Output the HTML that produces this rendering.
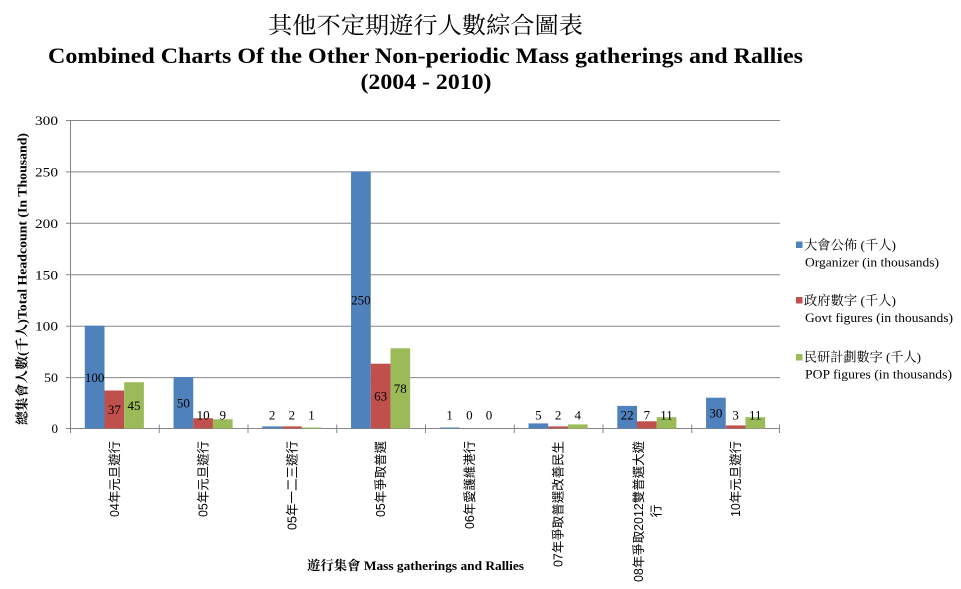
<!DOCTYPE html>
<html><head><meta charset="utf-8">
<style>
html,body{margin:0;padding:0;background:#fff;}
svg{display:block;}
.serif{font-family:"Liberation Serif","Noto Serif CJK SC",serif;}
.sans{font-family:"Liberation Sans","Noto Sans CJK TC",sans-serif;}
</style></head>
<body>
<svg width="961" height="589" viewBox="0 0 961 589" xmlns="http://www.w3.org/2000/svg">
<rect x="0" y="0" width="961" height="589" fill="#fff"/>
<!-- Titles -->
<text class="serif" x="425.5" y="33" font-size="23" text-anchor="middle" textLength="315" lengthAdjust="spacingAndGlyphs" fill="#000">其他不定期遊行人數綜合圖表</text>
<text class="serif" x="425.5" y="63" font-size="22" font-weight="bold" text-anchor="middle" textLength="755" lengthAdjust="spacingAndGlyphs" fill="#000">Combined Charts Of the Other Non-periodic Mass gatherings and Rallies</text>
<text class="serif" x="426" y="89" font-size="22" font-weight="bold" text-anchor="middle" textLength="131" lengthAdjust="spacingAndGlyphs" fill="#000">(2004 - 2010)</text>

<!-- gridlines -->
<g stroke="#868686" stroke-width="1">
<line x1="66" y1="120.5" x2="780" y2="120.5"/>
<line x1="66" y1="171.9" x2="780" y2="171.9"/>
<line x1="66" y1="223.3" x2="780" y2="223.3"/>
<line x1="66" y1="274.8" x2="780" y2="274.8"/>
<line x1="66" y1="326.2" x2="780" y2="326.2"/>
<line x1="66" y1="377.6" x2="780" y2="377.6"/>
<line x1="66" y1="428.5" x2="780" y2="428.5"/>
<line x1="70.5" y1="120" x2="70.5" y2="429"/>
<!-- x ticks -->
<line x1="70.5" y1="424.5" x2="70.5" y2="433"/>
<line x1="159.25" y1="424.5" x2="159.25" y2="433"/>
<line x1="248" y1="424.5" x2="248" y2="433"/>
<line x1="336.75" y1="424.5" x2="336.75" y2="433"/>
<line x1="425.5" y1="424.5" x2="425.5" y2="433"/>
<line x1="514.25" y1="424.5" x2="514.25" y2="433"/>
<line x1="603" y1="424.5" x2="603" y2="433"/>
<line x1="691.75" y1="424.5" x2="691.75" y2="433"/>
<line x1="779.5" y1="424.5" x2="779.5" y2="433"/>
</g>

<!-- y tick labels -->
<g class="serif" font-size="13" text-anchor="end" fill="#000" dominant-baseline="central">
<text x="58" y="120.5" textLength="23" lengthAdjust="spacingAndGlyphs">300</text>
<text x="58" y="171.9" textLength="23" lengthAdjust="spacingAndGlyphs">250</text>
<text x="58" y="223.3" textLength="23" lengthAdjust="spacingAndGlyphs">200</text>
<text x="58" y="274.8" textLength="23" lengthAdjust="spacingAndGlyphs">150</text>
<text x="58" y="326.2" textLength="23" lengthAdjust="spacingAndGlyphs">100</text>
<text x="58" y="377.6" textLength="14" lengthAdjust="spacingAndGlyphs">50</text>
<text x="58" y="428.5">0</text>
</g>

<!-- y axis title -->
<text class="serif" transform="translate(22,279) rotate(-90)" font-size="13" font-weight="bold" text-anchor="middle" dominant-baseline="central" textLength="292" lengthAdjust="spacingAndGlyphs" fill="#000">總集會人數(千人)Total Headcount (In Thousand)</text>

<!-- bars -->
<g fill="#4F81BD">
<rect x="84.8" y="325.7" width="19.7" height="102.8"/>
<rect x="173.55" y="377.1" width="19.7" height="51.4"/>
<rect x="262.3" y="426.4" width="19.7" height="2.1"/>
<rect x="351.05" y="171.4" width="19.7" height="257.1"/>
<rect x="439.8" y="427.5" width="19.7" height="1"/>
<rect x="528.55" y="423.4" width="19.7" height="5.1"/>
<rect x="617.3" y="405.9" width="19.7" height="22.6"/>
<rect x="706.05" y="397.7" width="19.7" height="30.8"/>
</g>
<g fill="#C0504D">
<rect x="104.5" y="390.5" width="19.7" height="38"/>
<rect x="193.25" y="418.2" width="19.7" height="10.3"/>
<rect x="282" y="426.4" width="19.7" height="2.1"/>
<rect x="370.75" y="363.7" width="19.7" height="64.8"/>
<rect x="548.25" y="426.4" width="19.7" height="2.1"/>
<rect x="637" y="421.3" width="19.7" height="7.2"/>
<rect x="725.75" y="425.4" width="19.7" height="3.1"/>
</g>
<g fill="#9BBB59">
<rect x="124.2" y="382.2" width="19.7" height="46.3"/>
<rect x="212.95" y="419.25" width="19.7" height="9.25"/>
<rect x="301.7" y="427.5" width="19.7" height="1"/>
<rect x="390.45" y="348.3" width="19.7" height="80.2"/>
<rect x="567.95" y="424.4" width="19.7" height="4.1"/>
<rect x="656.7" y="417.2" width="19.7" height="11.3"/>
<rect x="745.45" y="417.2" width="19.7" height="11.3"/>
</g>

<!-- data labels -->
<g class="serif" font-size="13" text-anchor="middle" dominant-baseline="central" fill="#000">
<text x="94.65" y="377.5">100</text>
<text x="114.35" y="409.5">37</text>
<text x="134.05" y="405.5">45</text>
<text x="183.4" y="403">50</text>
<text x="203.1" y="415">10</text>
<text x="222.8" y="415">9</text>
<text x="272.15" y="415">2</text>
<text x="291.85" y="415">2</text>
<text x="311.55" y="415">1</text>
<text x="360.9" y="300">250</text>
<text x="380.6" y="396">63</text>
<text x="400.3" y="388.4">78</text>
<text x="449.65" y="415">1</text>
<text x="469.35" y="415">0</text>
<text x="489.05" y="415">0</text>
<text x="538.4" y="415">5</text>
<text x="558.1" y="415">2</text>
<text x="577.8" y="415">4</text>
<text x="627.15" y="415">22</text>
<text x="646.85" y="415">7</text>
<text x="666.55" y="415">11</text>
<text x="715.9" y="413">30</text>
<text x="735.6" y="415">3</text>
<text x="755.3" y="415">11</text>
</g>

<!-- x category labels -->
<g class="sans" font-size="12.7" fill="#000" dominant-baseline="central" text-anchor="end">
<text transform="translate(114.9,441) rotate(-90)" textLength="76" lengthAdjust="spacingAndGlyphs">04年元旦遊行</text>
<text transform="translate(203.6,441) rotate(-90)" textLength="76" lengthAdjust="spacingAndGlyphs">05年元旦遊行</text>
<text transform="translate(292.4,441) rotate(-90)" textLength="89" lengthAdjust="spacingAndGlyphs">05年一二三遊行</text>
<text transform="translate(381.1,441) rotate(-90)" textLength="76" lengthAdjust="spacingAndGlyphs">05年爭取普選</text>
<text transform="translate(469.9,441) rotate(-90)" textLength="88" lengthAdjust="spacingAndGlyphs">06年愛護維港行</text>
<text transform="translate(558.6,441) rotate(-90)" textLength="126" lengthAdjust="spacingAndGlyphs">07年爭取普選改善民生</text>
<text transform="translate(639,441) rotate(-90)" textLength="141" lengthAdjust="spacingAndGlyphs">08年爭取2012雙普選大遊</text>
<text transform="translate(736.1,441) rotate(-90)" textLength="76" lengthAdjust="spacingAndGlyphs">10年元旦遊行</text>
</g>
<text class="sans" transform="translate(656.5,511) rotate(-90)" font-size="12.7" fill="#000" dominant-baseline="central" text-anchor="middle">行</text>

<!-- x axis title -->
<text class="serif" x="415.5" y="570" font-size="13" font-weight="bold" text-anchor="middle" textLength="217" lengthAdjust="spacingAndGlyphs" fill="#000">遊行集會 Mass gatherings and Rallies</text>

<!-- legend -->
<rect x="796" y="241.5" width="6.5" height="6.5" fill="#4F81BD"/>
<rect x="796" y="297" width="6.5" height="6.5" fill="#C0504D"/>
<rect x="796" y="354" width="6.5" height="6.5" fill="#9BBB59"/>
<g class="serif" font-size="13" fill="#000" dominant-baseline="central">
<text x="804" y="245" textLength="92" lengthAdjust="spacingAndGlyphs">大會公佈 (千人)</text>
<text x="805" y="262" textLength="134" lengthAdjust="spacingAndGlyphs">Organizer (in thousands)</text>
<text x="804" y="300.5" textLength="92" lengthAdjust="spacingAndGlyphs">政府數字 (千人)</text>
<text x="805" y="317.5" textLength="148" lengthAdjust="spacingAndGlyphs">Govt figures (in thousands)</text>
<text x="804" y="357" textLength="117" lengthAdjust="spacingAndGlyphs">民研計劃數字 (千人)</text>
<text x="805" y="374" textLength="147" lengthAdjust="spacingAndGlyphs">POP figures (in thousands)</text>
</g>
</svg>
</body></html>
